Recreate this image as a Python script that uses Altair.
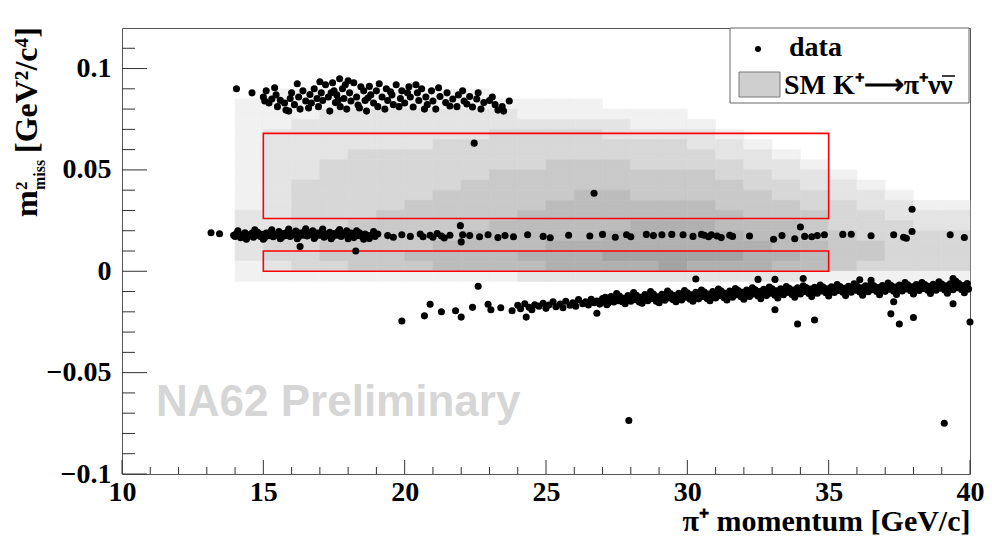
import altair as alt
import pandas as pd

SERIF = "Liberation Serif"

# signal regions (pi+ momentum range, m2miss range)
box_p_lo = [15, 15]
box_p_hi = [35, 35]
box_m_lo = [0.0, 0.026]
box_m_hi = [0.010, 0.068]

# SM K+ -> pi+ nu nubar expectation, grey level 0..9 per 1 GeV x 0.005 cell
shade_p = list(range(14, 40))
shade_m = [0.085, 0.080, 0.075, 0.070, 0.065, 0.060, 0.055, 0.050, 0.045, 0.040,
           0.035, 0.030, 0.025, 0.020, 0.015, 0.010, 0.005, 0.000, -0.005]
shade_rows = [
    "01111111100000000000000000",
    "11111111111110000000000000",
    "11122222221111110000000000",
    "11222222222222111000000000",
    "12222222233332222100000000",
    "12222223333333332210000000",
    "12223333333333333221000000",
    "12233333333444333322100000",
    "12233333344444444332210000",
    "12333333444444444433221000",
    "12333334444455444443322100",
    "12333344444555555444332211",
    "22333444445555555544433222",
    "22334444455555666555433322",
    "23334444555556666655443333",
    "23344445555666666665544333",
    "23344455556667777766544333",
    "12334445555666676665543333",
    "11111111112222222222111111",
]

# data events
upper_events = [
    (14.05, 0.0900), (14.6, 0.0880), (15.0, 0.0860), (15.05, 0.0840), (15.1, 0.0890),
    (15.2, 0.0830), (15.3, 0.0850), (15.45, 0.0870), (15.5, 0.0812), (15.6, 0.0843),
    (15.75, 0.0830), (15.8, 0.0795), (15.95, 0.0852), (16.0, 0.0880), (16.1, 0.0822),
    (16.25, 0.0860), (16.3, 0.0800), (16.4, 0.0890), (16.5, 0.0840), (16.65, 0.0872),
    (16.7, 0.0830), (16.8, 0.0900), (16.9, 0.0852), (16.95, 0.0812), (17.05, 0.0880),
    (17.1, 0.0842), (17.2, 0.0920), (17.3, 0.0860), (17.35, 0.0790), (17.45, 0.0930),
    (17.5, 0.0890), (17.55, 0.0832), (17.6, 0.0870), (17.7, 0.0950), (17.72, 0.0812),
    (17.8, 0.0900), (17.85, 0.0852), (17.9, 0.0920), (17.95, 0.0800), (18.05, 0.0880),
    (18.1, 0.0840), (18.2, 0.0930), (18.3, 0.0860), (18.35, 0.0820), (18.45, 0.0910),
    (18.55, 0.0890), (18.6, 0.0842), (18.65, 0.0790), (18.75, 0.0912), (18.8, 0.0870),
    (18.9, 0.0830), (19.0, 0.0890), (19.05, 0.0812), (19.2, 0.0860), (19.35, 0.0900),
    (19.4, 0.0842), (19.55, 0.0870), (19.6, 0.0822), (19.7, 0.0920), (19.85, 0.0852),
    (19.9, 0.0890), (20.0, 0.0830), (20.15, 0.0910), (20.2, 0.0860), (20.3, 0.0810),
    (20.45, 0.0880), (20.5, 0.0842), (20.6, 0.0900), (20.75, 0.0860), (20.8, 0.0822),
    (20.95, 0.0890), (21.0, 0.0840), (21.1, 0.0800), (21.25, 0.0862), (21.45, 0.0832),
    (21.5, 0.0880), (21.7, 0.0850), (21.85, 0.0812), (22.05, 0.0890), (22.1, 0.0840),
    (22.3, 0.0862), (22.4, 0.0810), (22.55, 0.0850), (22.6, 0.0880), (22.8, 0.0832),
    (23.0, 0.0842), (23.2, 0.0822), (23.45, 0.0812), (23.5, 0.0790), (23.7, 0.0840),
    (15.4, 0.0905), (15.9, 0.0790), (16.2, 0.0925), (16.6, 0.0805), (17.0, 0.0935),
    (17.4, 0.0880), (17.65, 0.0845), (18.0, 0.0940), (18.4, 0.0805), (18.7, 0.0855),
    (19.1, 0.0925), (19.3, 0.0800), (19.5, 0.0885), (19.8, 0.0812), (20.1, 0.0880),
    (20.4, 0.0920), (20.7, 0.0800), (21.2, 0.0905), (21.6, 0.0815), (21.9, 0.0870),
    (22.2, 0.0825), (22.7, 0.0800), (23.1, 0.0860), (23.3, 0.0795),
]

middle_events = [
    (13.15, 0.0190), (13.45, 0.0185), (13.95, 0.0178), (14.0, 0.0172), (14.05, 0.0186),
    (14.15, 0.0176), (14.2, 0.0165), (14.3, 0.0182), (14.35, 0.0190), (14.45, 0.0170),
    (14.5, 0.0180), (14.6, 0.0188), (14.65, 0.0168), (14.75, 0.0178), (14.8, 0.0192),
    (14.9, 0.0172), (14.95, 0.0183), (15.05, 0.0166), (15.1, 0.0188), (15.2, 0.0176),
    (15.25, 0.0194), (15.35, 0.0170), (15.4, 0.0184), (15.5, 0.0178), (15.55, 0.0196),
    (15.65, 0.0168), (15.7, 0.0186), (15.8, 0.0176), (15.85, 0.0195), (15.95, 0.0172),
    (16.0, 0.0186), (16.1, 0.0180), (16.15, 0.0198), (16.25, 0.0170), (16.3, 0.0188),
    (16.4, 0.0178), (16.45, 0.0196), (16.55, 0.0174), (16.6, 0.0190), (16.7, 0.0182),
    (16.75, 0.0200), (16.85, 0.0172), (16.9, 0.0188), (17.0, 0.0178), (17.05, 0.0194),
    (17.15, 0.0168), (17.2, 0.0184), (17.3, 0.0176), (17.35, 0.0192), (17.45, 0.0170),
    (17.5, 0.0186), (17.6, 0.0178), (17.65, 0.0196), (17.75, 0.0172), (17.8, 0.0186),
    (17.9, 0.0180), (17.95, 0.0200), (18.05, 0.0174), (18.1, 0.0188), (18.2, 0.0166),
    (18.25, 0.0182), (18.35, 0.0176), (18.4, 0.0190), (18.5, 0.0170), (18.6, 0.0184),
    (18.7, 0.0176), (18.75, 0.0162), (18.85, 0.0180), (18.95, 0.0172), (19.05, 0.0184),
    (14.1, 0.0200), (14.4, 0.0158), (14.7, 0.0205), (15.0, 0.0158), (15.3, 0.0205),
    (15.6, 0.0160), (15.9, 0.0208), (16.2, 0.0160), (16.5, 0.0210), (16.8, 0.0162),
    (17.1, 0.0208), (17.4, 0.0160), (17.7, 0.0206), (18.0, 0.0160), (18.3, 0.0200),
    (18.55, 0.0158), (18.9, 0.0196),
    (19.4, 0.0176), (19.6, 0.0168), (19.9, 0.0180), (20.2, 0.0172), (20.55, 0.0184),
    (20.65, 0.0170), (20.9, 0.0178), (21.0, 0.0168), (21.15, 0.0186), (21.3, 0.0174),
    (21.4, 0.0164), (21.6, 0.0178), (21.97, 0.0225), (22.0, 0.0145), (22.05, 0.0180),
    (22.3, 0.0176), (22.65, 0.0170), (22.95, 0.0180), (23.3, 0.0166), (23.55, 0.0176),
    (23.85, 0.0170), (24.35, 0.0180), (24.9, 0.0172), (25.15, 0.0165), (25.8, 0.0178),
    (26.55, 0.0174), (27.0, 0.0182), (27.45, 0.0168), (27.85, 0.0180), (28.0, 0.0170),
    (28.55, 0.0182), (28.8, 0.0176), (29.1, 0.0180), (29.45, 0.0182), (29.85, 0.0180),
    (30.2, 0.0172), (30.5, 0.0182), (30.6, 0.0178), (30.75, 0.0170), (30.85, 0.0180),
    (31.05, 0.0174), (31.2, 0.0166), (31.5, 0.0178), (31.6, 0.0172), (32.2, 0.0174),
    (33.05, 0.0158), (33.35, 0.0176), (33.8, 0.0160), (34.0, 0.0218), (34.15, 0.0172),
    (34.4, 0.0170), (34.6, 0.0176), (34.85, 0.0180), (35.5, 0.0182), (35.8, 0.0183),
    (36.5, 0.0175), (37.3, 0.0180), (37.65, 0.0168), (37.75, 0.0163), (37.95, 0.0196),
    (39.3, 0.0180), (39.8, 0.0167),
]

lower_events = [
    (19.9, -0.0245), (20.7, -0.0220), (20.9, -0.0163), (21.3, -0.0200), (21.8, -0.0195),
    (22.0, -0.0226), (22.4, -0.0178), (22.6, -0.0074), (22.95, -0.0163), (23.05, -0.0190),
    (23.4, -0.0180), (23.8, -0.0195), (24.3, -0.0226), (24.0, -0.0168), (24.1, -0.0185),
    (24.25, -0.0160), (24.4, -0.0178), (24.5, -0.0190), (24.6, -0.0165), (24.75, -0.0172),
    (24.9, -0.0158), (25.0, -0.0183), (25.1, -0.0166), (25.25, -0.0150), (25.35, -0.0175),
    (25.5, -0.0162), (25.6, -0.0180), (25.7, -0.0148), (25.85, -0.0168), (25.95, -0.0155),
    (26.05, -0.0172), (26.15, -0.0140), (26.3, -0.0160), (26.4, -0.0150), (26.5, -0.0166),
    (26.6, -0.0138), (26.7, -0.0155), (26.8, -0.0147), (26.9, -0.0162), (27.0, -0.0135),
    (27.05, -0.0150), (27.1, -0.0128), (27.2, -0.0158), (27.25, -0.0140), (27.3, -0.0125),
    (27.4, -0.0152), (27.45, -0.0135), (27.55, -0.0145), (27.6, -0.0122), (27.7, -0.0150),
    (27.75, -0.0133), (27.85, -0.0142), (27.9, -0.0120), (28.0, -0.0148), (28.05, -0.0130),
    (28.15, -0.0140), (28.2, -0.0118), (28.3, -0.0152), (28.35, -0.0128), (28.45, -0.0138),
    (28.5, -0.0115), (28.6, -0.0145), (28.65, -0.0125), (28.75, -0.0135), (28.8, -0.0112),
    (28.9, -0.0148), (28.95, -0.0126), (29.05, -0.0136), (29.1, -0.0114), (29.2, -0.0143),
    (29.25, -0.0122), (29.35, -0.0132), (29.4, -0.0110), (29.5, -0.0140), (29.55, -0.0120),
    (29.65, -0.0130), (29.7, -0.0108), (29.8, -0.0142), (29.85, -0.0118), (29.95, -0.0128),
    (30.0, -0.0106), (30.1, -0.0138), (30.15, -0.0116), (30.25, -0.0126), (30.3, -0.0104),
    (30.4, -0.0136), (30.45, -0.0114), (30.55, -0.0124), (30.6, -0.0102), (30.7, -0.0134),
    (30.75, -0.0112), (30.85, -0.0122), (30.9, -0.0100), (31.0, -0.0132), (31.05, -0.0110),
    (31.15, -0.0120), (31.2, -0.0098), (31.3, -0.0130), (31.35, -0.0108), (31.45, -0.0118),
    (31.5, -0.0097), (31.6, -0.0128), (31.65, -0.0106), (31.75, -0.0116), (31.8, -0.0095),
    (31.9, -0.0126), (31.95, -0.0104), (32.05, -0.0114), (32.1, -0.0093), (32.2, -0.0124),
    (32.25, -0.0102), (32.35, -0.0112), (32.4, -0.0091), (32.5, -0.0122), (32.55, -0.0100),
    (32.65, -0.0110), (32.7, -0.0089), (32.8, -0.0120), (32.85, -0.0098), (32.95, -0.0108),
    (33.0, -0.0087), (33.1, -0.0118), (33.15, -0.0096), (33.25, -0.0106), (33.3, -0.0086),
    (33.4, -0.0116), (33.45, -0.0094), (33.55, -0.0104), (33.6, -0.0084), (33.7, -0.0114),
    (33.75, -0.0092), (33.85, -0.0102), (33.9, -0.0082), (34.0, -0.0112), (34.05, -0.0090),
    (34.15, -0.0100), (34.2, -0.0080), (34.3, -0.0110), (34.35, -0.0088), (34.45, -0.0098),
    (34.5, -0.0079), (34.6, -0.0108), (34.65, -0.0087), (34.75, -0.0097), (34.8, -0.0078),
    (34.9, -0.0106), (34.95, -0.0086), (35.05, -0.0096), (35.1, -0.0076), (35.2, -0.0105),
    (35.25, -0.0085), (35.35, -0.0095), (35.4, -0.0075), (35.5, -0.0104), (35.55, -0.0084),
    (35.65, -0.0094), (35.7, -0.0074), (35.8, -0.0103), (35.85, -0.0083), (35.95, -0.0093),
    (36.0, -0.0073), (36.1, -0.0102), (36.15, -0.0082), (36.25, -0.0092), (36.3, -0.0072),
    (36.4, -0.0101), (36.45, -0.0081), (36.55, -0.0091), (36.6, -0.0071), (36.7, -0.0100),
    (36.75, -0.0080), (36.85, -0.0090), (36.9, -0.0070), (37.0, -0.0099), (37.05, -0.0079),
    (37.15, -0.0089), (37.2, -0.0069), (37.3, -0.0098), (37.35, -0.0078), (37.45, -0.0088),
    (37.5, -0.0068), (37.6, -0.0097), (37.65, -0.0077), (37.75, -0.0087), (37.8, -0.0067),
    (37.9, -0.0096), (37.95, -0.0076), (38.05, -0.0086), (38.1, -0.0066), (38.2, -0.0095),
    (38.25, -0.0075), (38.35, -0.0085), (38.4, -0.0065), (38.5, -0.0094), (38.55, -0.0074),
    (38.65, -0.0084), (38.7, -0.0064), (38.8, -0.0093), (38.85, -0.0073), (38.95, -0.0083),
    (39.0, -0.0063), (39.1, -0.0092), (39.15, -0.0072), (39.25, -0.0082), (39.3, -0.0062),
    (39.4, -0.0091), (39.45, -0.0071), (39.55, -0.0081), (39.6, -0.0061), (39.7, -0.0090),
    (39.75, -0.0070), (39.85, -0.0080), (39.9, -0.0060), (39.95, -0.0088),
    (27.15, -0.0165), (27.5, -0.0110), (27.8, -0.0160), (28.1, -0.0105), (28.4, -0.0158),
    (28.7, -0.0100), (29.0, -0.0155), (29.3, -0.0098), (29.6, -0.0150), (29.9, -0.0095),
    (30.2, -0.0148), (30.5, -0.0092), (30.8, -0.0145), (31.1, -0.0088), (31.4, -0.0142),
    (31.7, -0.0085), (32.0, -0.0138), (32.3, -0.0082), (32.6, -0.0135), (32.9, -0.0078),
    (33.2, -0.0132), (33.5, -0.0075), (33.8, -0.0128), (34.1, -0.0072), (34.4, -0.0125),
    (34.7, -0.0068), (35.0, -0.0122), (35.3, -0.0066), (35.6, -0.0120), (35.9, -0.0062),
    (36.2, -0.0118), (36.5, -0.0060), (36.8, -0.0116), (37.1, -0.0058), (37.4, -0.0115),
    (37.7, -0.0056), (38.0, -0.0112), (38.3, -0.0055), (38.6, -0.0110), (38.9, -0.0052),
    (39.2, -0.0108), (39.5, -0.0050), (39.8, -0.0106),
    (26.8, -0.0207), (30.3, -0.0038), (32.5, -0.0040), (33.1, -0.0040), (34.1, -0.0036),
    (36.1, -0.0042), (36.5, -0.0045), (39.4, -0.0036), (33.1, -0.0190), (33.9, -0.0260),
    (34.5, -0.0240), (37.2, -0.0210), (37.5, -0.0260), (38.0, -0.0228), (39.4, -0.0160),
    (40.0, -0.0250), (37.3, -0.0150),
]

stray_events = [
    (16.3, 0.0122), (18.27, 0.0100), (22.46, 0.0632), (26.7, 0.0385),
    (37.95, 0.0306), (27.93, -0.0736), (39.09, -0.0750),
]

x_major = [10, 15, 20, 25, 30, 35, 40]
x_minor = [11, 12, 13, 14, 16, 17, 18, 19, 21, 22, 23, 24, 26, 27, 28, 29,
           31, 32, 33, 34, 36, 37, 38, 39]
y_major = [-0.1, -0.05, 0.0, 0.05, 0.1]
y_minor = [-0.09, -0.08, -0.07, -0.06, -0.04, -0.03, -0.02, -0.01,
           0.01, 0.02, 0.03, 0.04, 0.06, 0.07, 0.08, 0.09, 0.11]

W, H = 848, 446
x_scale = alt.Scale(domain=[10, 40], nice=False, zero=False)
y_scale = alt.Scale(domain=[-0.1, 0.12], nice=False, zero=False)
grey = alt.Scale(domain=[0, 9], range=["#ffffff", "#8a8a8a"])
x_axis = alt.Axis(values=x_major, format="d", title="π⁺ momentum [GeV/c]",
                  titleAnchor="end", titleAlign="right", titleX=W, titleY=56,
                  titleBaseline="alphabetic", labelPadding=4)
y_axis = alt.Axis(values=y_major, format="~g", title="", labelPadding=11)

cells = [
    {"p": p, "p2": p + 1, "m": m, "m2": m + 0.005, "level": int(ch)}
    for m, row in zip(shade_m, shade_rows)
    for p, ch in zip(shade_p, row)
    if ch != "0"
]
heat_df = pd.DataFrame(cells)
box_df = pd.DataFrame({"p": box_p_lo, "p2": box_p_hi, "m": box_m_lo, "m2": box_m_hi})
events_df = pd.DataFrame(upper_events + middle_events + lower_events + stray_events,
                         columns=["p", "m"])
one = pd.DataFrame({"k": [0]})

X = alt.X("p:Q", scale=x_scale, axis=x_axis)
Y = alt.Y("m:Q", scale=y_scale, axis=y_axis)

heat = alt.Chart(heat_df).mark_rect(strokeWidth=0.6).encode(
    x=X, x2="p2:Q", y=Y, y2="m2:Q",
    color=alt.Color("level:Q", scale=grey, legend=None),
    stroke=alt.Stroke("level:Q", scale=grey, legend=None),
)

boxes = alt.Chart(box_df).mark_rect(fillOpacity=0, stroke="#ff0000", strokeWidth=1.6).encode(
    x=X, x2="p2:Q", y=Y, y2="m2:Q",
)

points = alt.Chart(events_df).mark_circle(size=50, color="black", opacity=1).encode(x=X, y=Y)


def xticks(values, length):
    return alt.Chart(pd.DataFrame({"p": values})).mark_rule(color="#333", strokeWidth=1).encode(
        x=X, y=alt.value(H), y2=alt.value(H - length))


def yticks(values, length):
    return alt.Chart(pd.DataFrame({"m": values})).mark_rule(color="#333", strokeWidth=1).encode(
        y=Y, x=alt.value(0), x2=alt.value(length))


def text(t, x, y, size, angle=0, font=SERIF, color="black"):
    return alt.Chart(one).mark_text(
        text=t, font=font, fontWeight="bold", fontSize=size, color=color,
        align="left", baseline="alphabetic", angle=angle,
    ).encode(x=alt.value(x), y=alt.value(y))


watermark = text("NA62 Preliminary", 34, 388, 44, font="Liberation Sans", color="#d6d6d6")

ytitle = (text("m", -85, 189, 32, angle=270)
          + text("2", -95, 162, 17, angle=270)
          + text("miss", -77, 162, 16, angle=270)
          + text("[GeV²/c⁴]", -85, 125, 32, angle=270))

legend_frame = alt.Chart(one).mark_rect(fill="white", stroke="#666", strokeWidth=1).encode(
    x=alt.value(608), x2=alt.value(847), y=alt.value(0), y2=alt.value(75))
legend_dot = alt.Chart(one).mark_circle(size=36, color="black", opacity=1).encode(
    x=alt.value(636), y=alt.value(21))
legend_swatch = alt.Chart(one).mark_rect(fill="#cfcfcf", stroke="#777", strokeWidth=1).encode(
    x=alt.value(617), x2=alt.value(658), y=alt.value(44), y2=alt.value(69))
legend_bar = alt.Chart(one).mark_rule(color="black", strokeWidth=1.5).encode(
    x=alt.value(820), x2=alt.value(833), y=alt.value(48))
legend = (legend_frame + legend_dot + legend_swatch
          + text("data", 667, 28, 28)
          + text("SM K⁺⟶π⁺ν", 662, 66, 28)
          + text("ν", 818, 66, 28)
          + legend_bar)

chart = alt.layer(
    heat, boxes, watermark, points,
    xticks(x_major, 14), xticks(x_minor, 7),
    yticks(y_major, 25), yticks(y_minor, 13),
    ytitle, legend,
).properties(
    width=W, height=H,
    autosize=alt.AutoSizeParams(type="none"),
    padding={"left": 114, "top": 20, "right": 14, "bottom": 62},
).configure_view(
    stroke="#555", strokeWidth=1
).configure_axis(
    grid=False, ticks=False, domain=False,
    labelFont=SERIF, labelFontWeight="bold", labelFontSize=28, labelColor="black",
    labelOverlap=False, labelFlush=False,
    titleFont=SERIF, titleFontWeight="bold", titleFontSize=30, titleColor="black",
)

chart.save("out.html", embed_options={"renderer": "svg", "actions": False})
